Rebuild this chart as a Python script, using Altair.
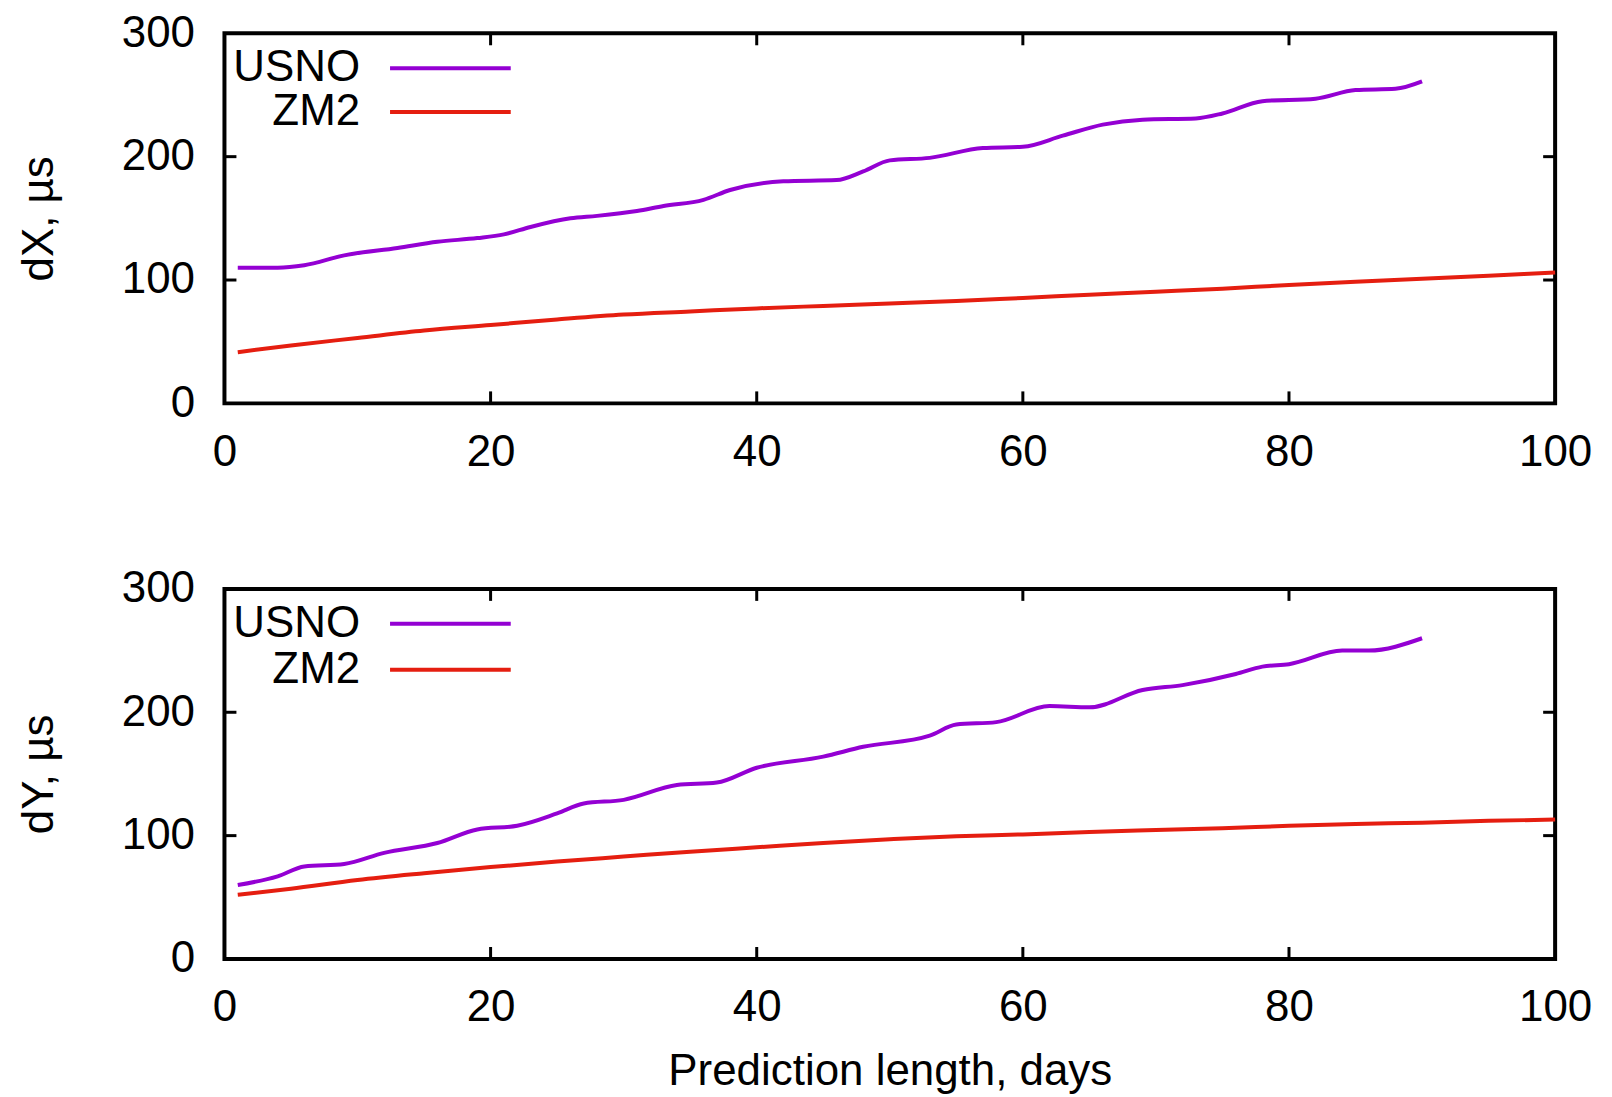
import altair as alt
import pandas as pd

FONT = "Liberation Sans"
SERIES = ["USNO", "ZM2"]
COLORS = ["#9400D3", "#E51E10"]

X_TICKS = [0, 20, 40, 60, 80, 100]
Y_TICKS = [0, 100, 200, 300]
X_INNER = [20, 40, 60, 80]
Y_INNER = [100, 200]

# Top panel (dX)
dx_usno_days = [1, 4, 6, 9, 13, 16, 19, 21, 23, 26, 28, 31, 33, 36, 38, 42, 46, 48, 50, 53,
                57, 60, 63, 66, 69, 73, 75, 78, 82, 85, 88, 90]
dx_usno_vals = [110, 110, 112, 120, 126, 131, 134, 137, 143, 150, 152, 156, 160, 165, 173, 180, 181, 188, 197, 199,
                207, 208, 217, 226, 230, 231, 235, 245, 247, 254, 255, 261]
dx_zm2_days = [1, 5, 10, 15, 20, 25, 30, 35, 40, 45, 50, 55, 60, 65, 70, 75, 80, 85, 90, 95, 100]
dx_zm2_vals = [41.5, 47, 53, 59, 63.5, 68, 72, 74.5, 77, 79, 81, 83, 85.5, 88, 90.5, 93, 96, 98.5, 101, 103.5, 106]

# Bottom panel (dY)
dy_usno_days = [1, 4, 6, 9, 12, 16, 19, 22, 25, 27, 30, 34, 37, 40, 45, 48, 53, 55, 58,
                62, 65, 69, 72, 76, 78, 80, 84, 86, 90]
dy_usno_vals = [60, 67, 75, 77, 86, 94, 105, 108, 118, 126, 129, 141, 143, 155, 164, 172, 181, 190, 192,
                205, 204, 218, 222, 231, 237, 239, 250, 250, 260]
dy_zm2_days = [1, 5, 10, 15, 20, 25, 30, 35, 40, 45, 50, 55, 60, 65, 70, 75, 80, 85, 90, 95, 100]
dy_zm2_vals = [52, 57, 64, 69.5, 74.5, 79, 83, 87, 90.5, 94, 97, 99.5, 101, 103, 104.5, 106, 108, 109.5, 110.5, 112, 113]

W = 1334
H = 371
TICK = 12
FS = 44

xscale = alt.Scale(domain=[0, 100], nice=False, zero=False)
yscale = alt.Scale(domain=[0, 300], nice=False, zero=False)


def panel(u_days, u_vals, z_days, z_vals, ytitle, xtitle, leg_gap):
    df = pd.concat([
        pd.DataFrame({"day": u_days, "val": u_vals, "series": SERIES[0]}),
        pd.DataFrame({"day": z_days, "val": z_vals, "series": SERIES[1]}),
    ])
    xaxis_kw = dict(values=X_TICKS, ticks=False, domain=False, grid=False,
                    labelFontSize=FS, labelFont=FONT, labelPadding=27, labelColor="black",
                    titleFontSize=FS, titleFont=FONT, titleFontWeight="normal",
                    titleColor="black", titlePadding=20, labelFlush=False)
    if xtitle:
        xaxis = alt.Axis(title=xtitle, **xaxis_kw)
    else:
        xaxis = alt.Axis(title=None, **xaxis_kw)
    yaxis = alt.Axis(values=Y_TICKS, ticks=False, domain=False, grid=False,
                     labelFontSize=FS, labelFont=FONT, labelPadding=30, labelColor="black",
                     title=ytitle, titleFontSize=FS, titleFont=FONT, titleFontWeight="normal",
                     titleColor="black", titlePadding=60, labelFlush=False)
    lines = alt.Chart(df).mark_line(strokeWidth=4, interpolate="monotone").encode(
        x=alt.X("day:Q", scale=xscale, axis=xaxis),
        y=alt.Y("val:Q", scale=yscale, axis=yaxis),
        color=alt.Color("series:N", scale=alt.Scale(domain=SERIES, range=COLORS), legend=None),
    )
    xt = pd.DataFrame({"t": X_INNER})
    yt = pd.DataFrame({"t": Y_INNER})
    tick_style = dict(color="black", strokeWidth=3)
    xb = alt.Chart(xt).mark_rule(**tick_style).encode(
        x=alt.X("t:Q", scale=xscale), y=alt.value(H), y2=alt.value(H - TICK))
    xtp = alt.Chart(xt).mark_rule(**tick_style).encode(
        x=alt.X("t:Q", scale=xscale), y=alt.value(0), y2=alt.value(TICK))
    yl = alt.Chart(yt).mark_rule(**tick_style).encode(
        y=alt.Y("t:Q", scale=yscale), x=alt.value(0), x2=alt.value(TICK))
    yr = alt.Chart(yt).mark_rule(**tick_style).encode(
        y=alt.Y("t:Q", scale=yscale), x=alt.value(W), x2=alt.value(W - TICK))
    layers = [lines, xb, xtp, yl, yr]
    for i, (name, col) in enumerate(zip(SERIES, COLORS)):
        ypos = 35 + leg_gap * i
        src = alt.Data(values=[{"series": name}])
        layers.append(alt.Chart(src).mark_text(
            align="right", baseline="middle", fontSize=FS, font=FONT, color="black").encode(
            text=alt.Text("series:N"), x=alt.value(136), y=alt.value(ypos)))
        layers.append(alt.Chart(src).mark_rule(strokeWidth=4, color=col).encode(
            x=alt.value(166), x2=alt.value(287), y=alt.value(ypos)))
    return alt.layer(*layers).properties(width=W, height=H)


top = panel(dx_usno_days, dx_usno_vals, dx_zm2_days, dx_zm2_vals, "dX, µs", None, 44)
bottom = panel(dy_usno_days, dy_usno_vals, dy_zm2_days, dy_zm2_vals, "dY, µs",
               "Prediction length, days", 46)

chart = alt.vconcat(top, bottom, spacing=89).properties(
    padding={"top": 0, "left": 7, "right": 10, "bottom": 0},
    background="white",
).configure_view(stroke="black", strokeWidth=4)

chart.save("out.html", embed_options={"renderer": "svg", "actions": False})
